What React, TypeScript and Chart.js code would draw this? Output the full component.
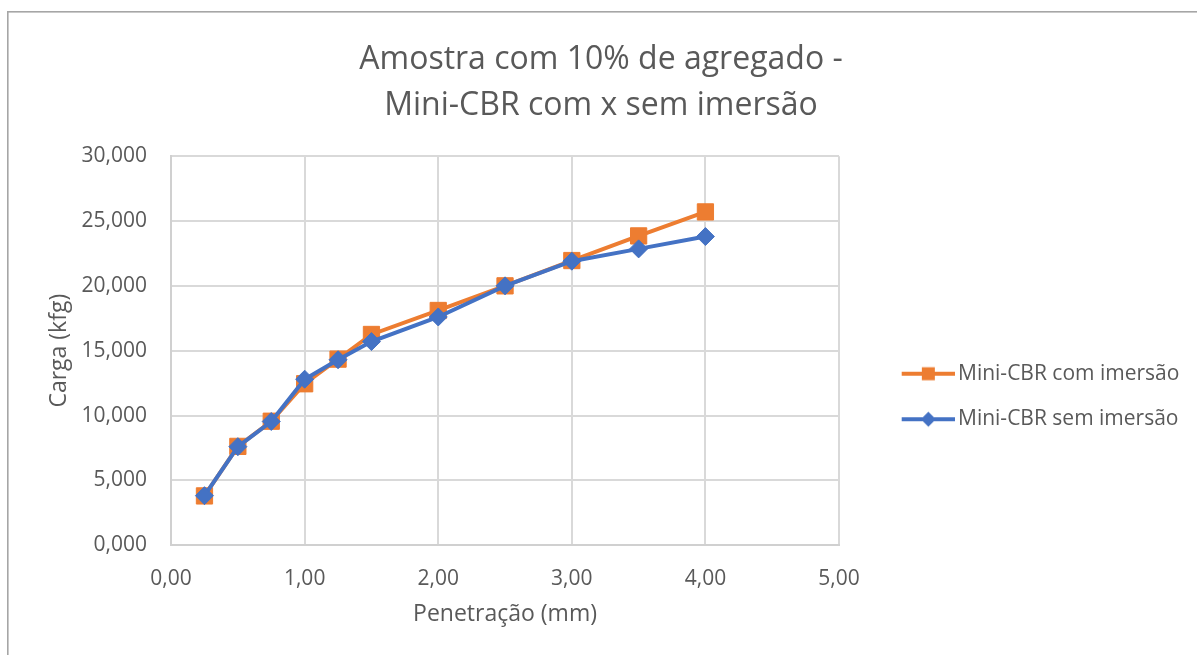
import React, { useEffect, useRef } from 'react';
import { Chart, registerables } from 'chart.js';

Chart.register(...registerables);

// ---- data ----
const penetracao = [0.25, 0.5, 0.75, 1.0, 1.25, 1.5, 2.0, 2.5, 3.0, 3.5, 4.0];
const comImersao = [3800, 7620, 9560, 12450, 14350, 16250, 18100, 20000, 21950, 23850, 25700];
const semImersao = [3820, 7600, 9540, 12800, 14300, 15700, 17600, 20000, 21900, 22850, 23800];
const seriesLabels = ['Mini-CBR com imersão', 'Mini-CBR sem imersão'];
const titleLines = ['Amostra com 10% de agregado -', 'Mini-CBR com x sem imersão'];
const xTitle = 'Penetração (mm)';
const yTitle = 'Carga (kfg)';
const xTickValues = [0, 1, 2, 3, 4, 5];
const yTickValues = [0, 5000, 10000, 15000, 20000, 25000, 30000];

const ORANGE = '#ED7D31';
const BLUE = '#4472C4';
const TEXT = '#595959';
const FONT = "'Open Sans', sans-serif";

const LEGEND_WIDTH = 358;
const LEGEND_SHIFT = 85;

function makeIcon(color: string, shape: 'rect' | 'diamond'): HTMLCanvasElement {
  const c = document.createElement('canvas');
  c.width = 103;
  c.height = 24;
  const ctx = c.getContext('2d')!;
  const x0 = 47.7;
  const x1 = 101;
  const cy = 12;
  ctx.strokeStyle = color;
  ctx.lineWidth = 4;
  ctx.beginPath();
  ctx.moveTo(x0, cy);
  ctx.lineTo(x1, cy);
  ctx.stroke();
  const cx = (x0 + x1) / 2;
  ctx.fillStyle = color;
  ctx.beginPath();
  if (shape === 'rect') {
    ctx.rect(cx - 6.5, cy - 6.5, 13, 13);
  } else {
    const r = 7.5;
    ctx.moveTo(cx - r, cy);
    ctx.lineTo(cx, cy - r);
    ctx.lineTo(cx + r, cy);
    ctx.lineTo(cx, cy + r);
    ctx.closePath();
  }
  ctx.fill();
  return c;
}

const borderPlugin = {
  id: 'outerBorder',
  beforeDraw(chart: any) {
    const ctx = chart.ctx;
    ctx.save();
    ctx.fillStyle = '#ffffff';
    ctx.fillRect(0, 0, chart.width, chart.height);
    ctx.fillStyle = '#a6a6a6';
    ctx.fillRect(7, 11, chart.width - 7, 1.6);
    ctx.fillRect(7, 11, 1.6, chart.height - 11);
    ctx.restore();
  },
};

const legendPlacePlugin = {
  id: 'legendPlace',
  beforeLayout(chart: any) {
    const lg = chart.legend;
    if (lg && !lg.__patched) {
      const orig = lg.fit.bind(lg);
      lg.fit = function () {
        orig();
        this.width = LEGEND_WIDTH;
      };
      lg.__patched = true;
    }
  },
  afterLayout(chart: any) {
    const lg = chart.legend;
    if (lg) {
      lg.top += LEGEND_SHIFT;
      lg.bottom += LEGEND_SHIFT;
    }
  },
};

export default function App() {
  const canvasRef = useRef<HTMLCanvasElement | null>(null);

  useEffect(() => {
    if (!canvasRef.current) return;
    const icons = [makeIcon(ORANGE, 'rect'), makeIcon(BLUE, 'diamond')];
    const chart = new Chart(canvasRef.current, {
      type: 'line',
      data: {
        datasets: [
          {
            label: seriesLabels[0],
            data: penetracao.map((x, i) => ({ x, y: comImersao[i] })),
            borderColor: ORANGE,
            backgroundColor: ORANGE,
            pointBackgroundColor: ORANGE,
            pointBorderColor: ORANGE,
            pointStyle: 'rect',
            pointRadius: 11.5,
            pointBorderWidth: 1,
            borderWidth: 4,
            tension: 0,
            order: 1,
          },
          {
            label: seriesLabels[1],
            data: penetracao.map((x, i) => ({ x, y: semImersao[i] })),
            borderColor: BLUE,
            backgroundColor: BLUE,
            pointBackgroundColor: BLUE,
            pointBorderColor: BLUE,
            pointStyle: 'rectRot',
            pointRadius: 9,
            pointBorderWidth: 1,
            borderWidth: 4,
            tension: 0,
            order: 0,
          },
        ],
      },
      options: {
        animation: false,
        responsive: true,
        maintainAspectRatio: false,
        layout: { padding: { left: 5, right: 0, top: 0, bottom: 32 } },
        font: { family: FONT },
        scales: {
          x: {
            type: 'linear',
            min: xTickValues[0],
            max: xTickValues[xTickValues.length - 1],
            afterBuildTicks: (scale: any) => {
              scale.ticks = xTickValues.map((v) => ({ value: v }));
            },
            ticks: {
              color: TEXT,
              font: { size: 21, family: FONT },
              padding: 21,
              callback: (v: any) => Number(v).toFixed(2).replace('.', ','),
            },
            grid: { color: '#d9d9d9', lineWidth: 2, drawTicks: false },
            border: { color: '#d0d0d0', width: 2 },
            title: {
              display: true,
              text: xTitle,
              color: TEXT,
              font: { size: 23, family: FONT },
              padding: { top: -12, bottom: -5 },
            },
          },
          y: {
            type: 'linear',
            min: yTickValues[0],
            max: yTickValues[yTickValues.length - 1],
            afterBuildTicks: (scale: any) => {
              scale.ticks = yTickValues.map((v) => ({ value: v }));
            },
            ticks: {
              color: TEXT,
              font: { size: 21, family: FONT },
              padding: 24,
              callback: (v: any) =>
                Number(v / 1000).toFixed(3).replace('.', ','),
            },
            grid: { color: '#d9d9d9', lineWidth: 2, drawTicks: false },
            border: { color: '#d0d0d0', width: 2 },
            title: {
              display: true,
              text: yTitle,
              color: TEXT,
              font: { size: 23, family: FONT },
              padding: { top: 41, bottom: -16 },
            },
          },
        },
        plugins: {
          title: {
            display: true,
            text: titleLines,
            color: TEXT,
            font: { size: 32, family: FONT, weight: 'normal', lineHeight: 1.44 },
            padding: { top: 37, bottom: 27 },
          },
          legend: {
            display: true,
            position: 'right',
            align: 'center',
            labels: {
              usePointStyle: true,
              pointStyleWidth: 84,
              padding: 24.5,
              color: TEXT,
              font: { size: 21, family: FONT },
              generateLabels: (ch: any) => {
                const items = (Chart as any).defaults.plugins.legend.labels.generateLabels(ch);
                items.sort((a: any, b: any) => a.datasetIndex - b.datasetIndex);
                return items.map((it: any) => ({ ...it, pointStyle: icons[it.datasetIndex] }));
              },
            },
          },
          tooltip: { enabled: false },
        },
      } as any,
      plugins: [borderPlugin, legendPlacePlugin],
    });
    return () => chart.destroy();
  }, []);

  return (
    <div style={{ position: 'fixed', left: 0, top: 0, width: 1197, height: 655, background: '#fff' }}>
      <canvas ref={canvasRef} />
    </div>
  );
}
